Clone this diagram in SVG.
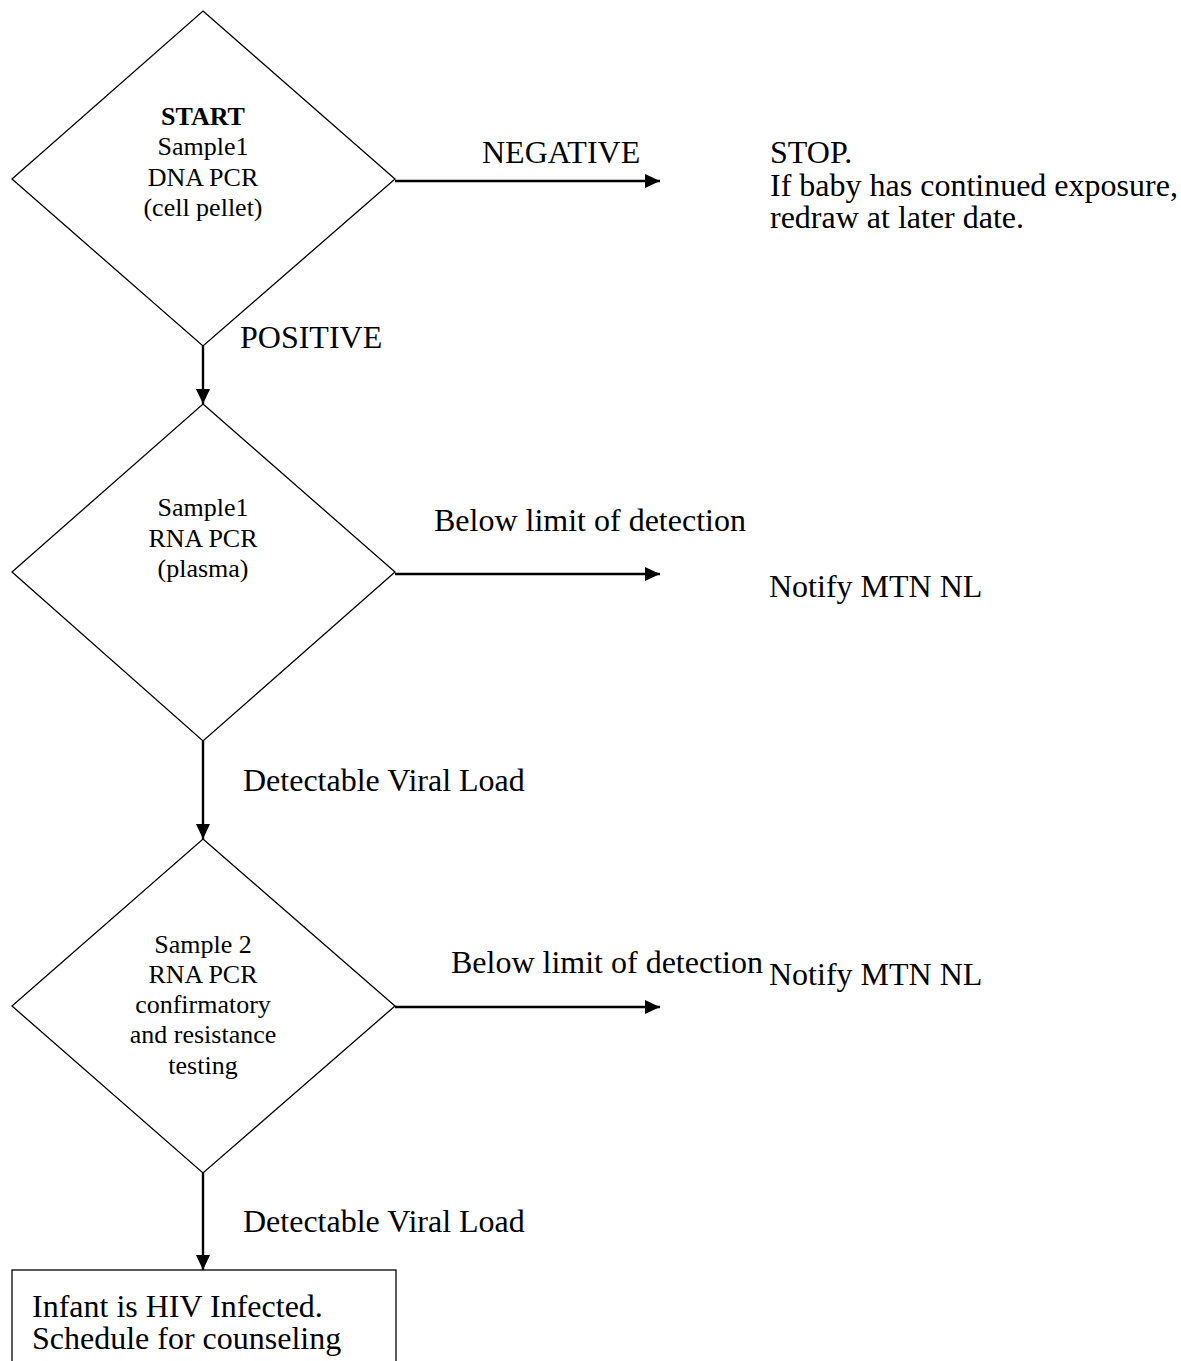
<svg xmlns="http://www.w3.org/2000/svg" width="1181" height="1361" viewBox="0 0 1181 1361">
<style>
.shape{fill:#fff;stroke:#000;stroke-width:1.3}
.conn{stroke:#000;stroke-width:2.4;fill:none}
.dt{font-family:"Liberation Serif","Times New Roman",serif;font-size:26px;fill:#000;text-anchor:middle}
.lb{font-family:"Liberation Serif","Times New Roman",serif;font-size:32px;fill:#000}
.b{font-weight:bold}
</style>
<defs>
<marker id="ah" markerUnits="userSpaceOnUse" markerWidth="16" markerHeight="16" viewBox="0 0 16 16" refX="15" refY="8" orient="auto">
<path d="M0,1 L15,8 L0,15 Z" fill="#000"/>
</marker>
</defs>
<rect width="1181" height="1361" fill="#fff"/>
<g id="connectors">
<line class="conn" x1="203" y1="346" x2="203" y2="404" marker-end="url(#ah)"/>
<line class="conn" x1="203" y1="741" x2="203" y2="839" marker-end="url(#ah)"/>
<line class="conn" x1="203" y1="1173" x2="203" y2="1270" marker-end="url(#ah)"/>
<line class="conn" x1="395" y1="181" x2="660" y2="181" marker-end="url(#ah)"/>
<line class="conn" x1="395" y1="574" x2="660" y2="574" marker-end="url(#ah)"/>
<line class="conn" x1="395" y1="1007" x2="660" y2="1007" marker-end="url(#ah)"/>
</g>
<g id="node-start">
<polygon class="shape" points="203,11 395,179 203,346 12,179"/>
<text class="dt b" x="203" y="125">START</text>
<text class="dt" x="203" y="155">Sample1</text>
<text class="dt" x="203" y="186">DNA PCR</text>
<text class="dt" x="203" y="216">(cell pellet)</text>
</g>
<g id="node-rna1">
<polygon class="shape" points="203,404 395,572 203,741 12,572"/>
<text class="dt" x="203" y="516">Sample1</text>
<text class="dt" x="203" y="547">RNA PCR</text>
<text class="dt" x="203" y="577">(plasma)</text>
</g>
<g id="node-rna2">
<polygon class="shape" points="203,839 395,1006 203,1173 12,1006"/>
<text class="dt" x="203" y="953">Sample 2</text>
<text class="dt" x="203" y="983">RNA PCR</text>
<text class="dt" x="203" y="1013">confirmatory</text>
<text class="dt" x="203" y="1043">and resistance</text>
<text class="dt" x="203" y="1074">testing</text>
</g>
<g id="node-infected">
<rect class="shape" x="12" y="1270" width="384" height="110"/>
<text class="lb" x="32" y="1317">Infant is HIV Infected.</text>
<text class="lb" x="32" y="1349">Schedule for counseling</text>
</g>
<g id="node-stop">
<text class="lb" x="770" y="163">STOP.</text>
<text class="lb" x="770" y="196">If baby has continued exposure,</text>
<text class="lb" x="770" y="228">redraw at later date.</text>
</g>
<g id="node-notify1">
<text class="lb" x="769" y="597">Notify MTN NL</text>
</g>
<g id="node-notify2">
<text class="lb" x="769" y="985">Notify MTN NL</text>
</g>
<g id="labels">
<text class="lb" x="482" y="163">NEGATIVE</text>
<text class="lb" x="240" y="348">POSITIVE</text>
<text class="lb" x="434" y="531">Below limit of detection</text>
<text class="lb" x="243" y="791">Detectable Viral Load</text>
<text class="lb" x="451" y="973">Below limit of detection</text>
<text class="lb" x="243" y="1232">Detectable Viral Load</text>
</g>
</svg>
